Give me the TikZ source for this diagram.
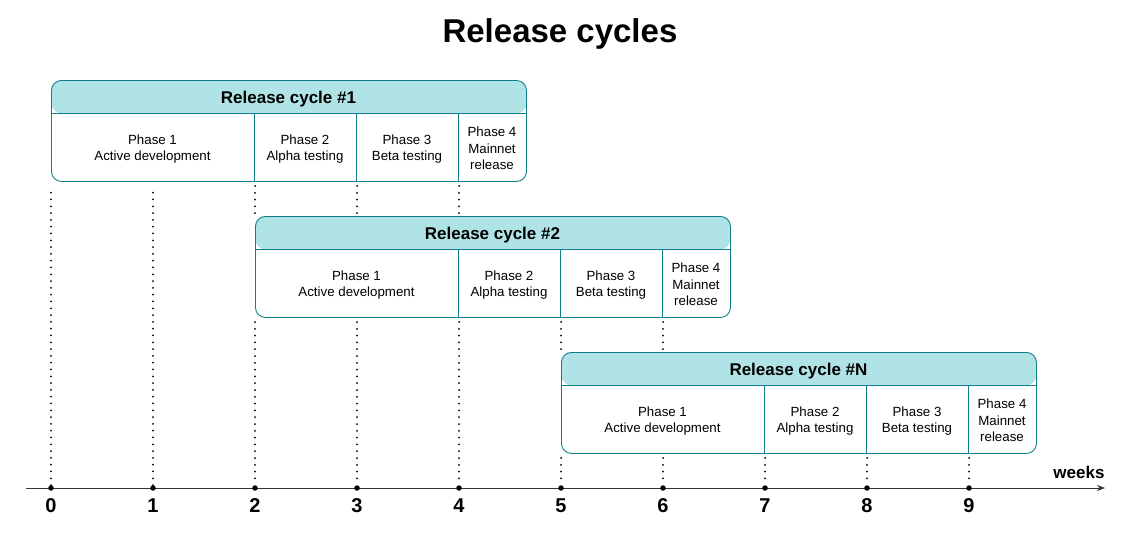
\documentclass[tikz,border=0pt]{standalone}
\usepackage{fontspec}
\setmainfont{Liberation Sans}
\usetikzlibrary{arrows.meta,positioning}
\definecolor{hdrfill}{HTML}{B0E3E6}
\definecolor{hdrline}{HTML}{0E8088}

\begin{document}
\begin{tikzpicture}[x=1pt,y=-1pt,
	cyclebox/.style={draw=hdrline, line width=0.9pt, rounded corners=10pt,
		minimum width=475pt, minimum height=101pt, inner sep=0pt, anchor=north west},
	phase/.style={align=center, font=\fontsize{13.3}{16.6}\selectfont, inner sep=0pt},
	cyclehead/.style={font=\bfseries\fontsize{17}{20}\selectfont, inner sep=0pt},
	tick/.style={font=\bfseries\fontsize{20}{24}\selectfont, inner sep=0pt},
	guide/.style={line width=2pt, line cap=round, dash pattern=on 0pt off 6.8pt},
	divider/.style={draw=hdrline, line width=0.9pt}]
\useasboundingbox (0,0) rectangle (1131,533);

\node[font=\bfseries\fontsize{33}{40}\selectfont] (title) at (560,34) {Release cycles};

% the three release cycles
\foreach \n/\lbl/\x/\y in {1/\#1/51/80, 2/\#2/255/216, 3/\#N/561/352}{
	\node[cyclebox, path picture={\fill[hdrfill] (path picture bounding box.north west)
		rectangle ([yshift=-33pt]path picture bounding box.north east);}]
		(c\n) at (\x,\y) {};
	\node[cyclehead] (h\n) at (\x+237.5,\y+19) {Release cycle \lbl};
	\draw[divider] (\x,\y+33) -- (\x+475,\y+33)
		(\x+203,\y+33) -- (\x+203,\y+101)
		(\x+305,\y+33) -- (\x+305,\y+101)
		(\x+407,\y+33) -- (\x+407,\y+101);
	\node[phase] (p\n a) at (\x+101.5,\y+69) {Phase 1\\Active development};
	\node[phase] (p\n b) at (\x+254,\y+69) {Phase 2\\Alpha testing};
	\node[phase] (p\n c) at (\x+356,\y+69) {Phase 3\\Beta testing};
	\node[phase] (p\n d) at (\x+441,\y+68.5) {Phase 4\\Mainnet\\release};
}

% time axis
\coordinate (axstart) at (26,488);
\coordinate (axend) at (1105,488);
\draw[black!80, line width=0.9pt, -{Stealth[length=8pt,width=6pt]}] (axstart) -- (axend);
\node[font=\bfseries\fontsize{17}{20}\selectfont] (weeks) at (1079,472) {weeks};
\foreach \i in {0,...,9}{
	\node[circle, fill=black, inner sep=0pt, minimum size=5.5pt] (t\i) at (51+102*\i,488) {};
	\node[tick, below=7.5pt of t\i] (l\i) {\i};
}

% guide lines
\draw[guide] (t0) -- (t0 |- 0,186);
\draw[guide] (t1) -- (t1 |- 0,186);
\foreach \i in {2,3,4}{
	\draw[guide] (t\i |- 0,186) -- (t\i |- 0,214);
	\draw[guide] (t\i |- 0,322) -- (t\i);
}
\foreach \i in {5,6}{
	\draw[guide] (t\i |- 0,322) -- (t\i |- 0,350);
	\draw[guide] (t\i |- 0,458) -- (t\i);
}
\foreach \i in {7,8,9}
	\draw[guide] (t\i |- 0,458) -- (t\i);
\end{tikzpicture}
\end{document}
